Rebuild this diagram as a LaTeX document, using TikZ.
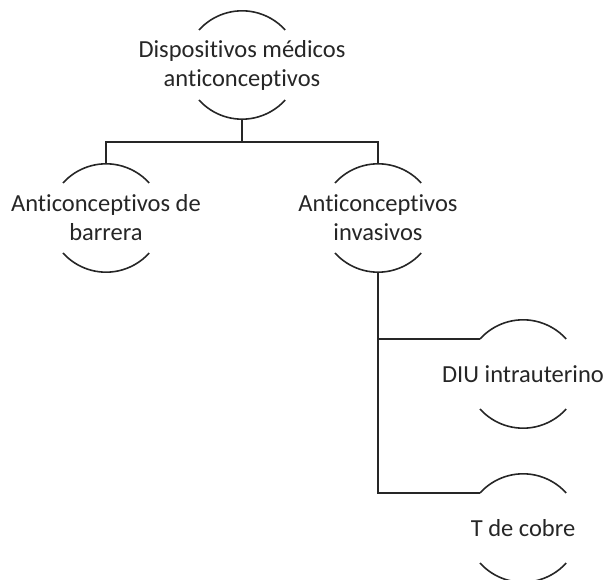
\documentclass[tikz,border=0pt]{standalone}
\usepackage{fontspec}
\setmainfont{Carlito}[Ligatures=NoCommon]
\usetikzlibrary{calc}
\begin{document}
\begin{tikzpicture}[x=1pt,y=1pt,
  bubble/.style={rectangle,minimum height=108pt,inner sep=0pt,align=center,
    font=\fontsize{24.5}{29}\selectfont,text=black!85},
  arcline/.style={line width=1.6pt,black!85},
  link/.style={line width=2pt,black!85}]
\useasboundingbox (0,0) rectangle (603,579);
\node[bubble] (top) at (242,514) {Dispositivos médicos\\anticonceptivos};
\node[bubble] (left) at (106,361) {Anticonceptivos de\\barrera};
\node[bubble] (right) at (378,361) {Anticonceptivos\\invasivos};
\node[bubble] (diu) at (523,205) {DIU intrauterino};
\node[bubble] (tcobre) at (523,51) {T de cobre};
\foreach \n in {top,left,right,diu,tcobre}{
  \draw[arcline] ($(\n.center)+(-43,35)$) arc[start angle=138,end angle=42,radius=58];
  \draw[arcline] ($(\n.center)+(-43,-35)$) arc[start angle=222,end angle=318,radius=58];
}
\draw[link] (top.south) -- ++(0,-23) coordinate (hub) -| (left.north);
\draw[link] (hub) -| (right.north);
\draw[link] (right.south) |- ($(diu.center)+(-43,35)$);
\draw[link] (right.south) |- ($(tcobre.center)+(-43,35)$);
\end{tikzpicture}
\end{document}
